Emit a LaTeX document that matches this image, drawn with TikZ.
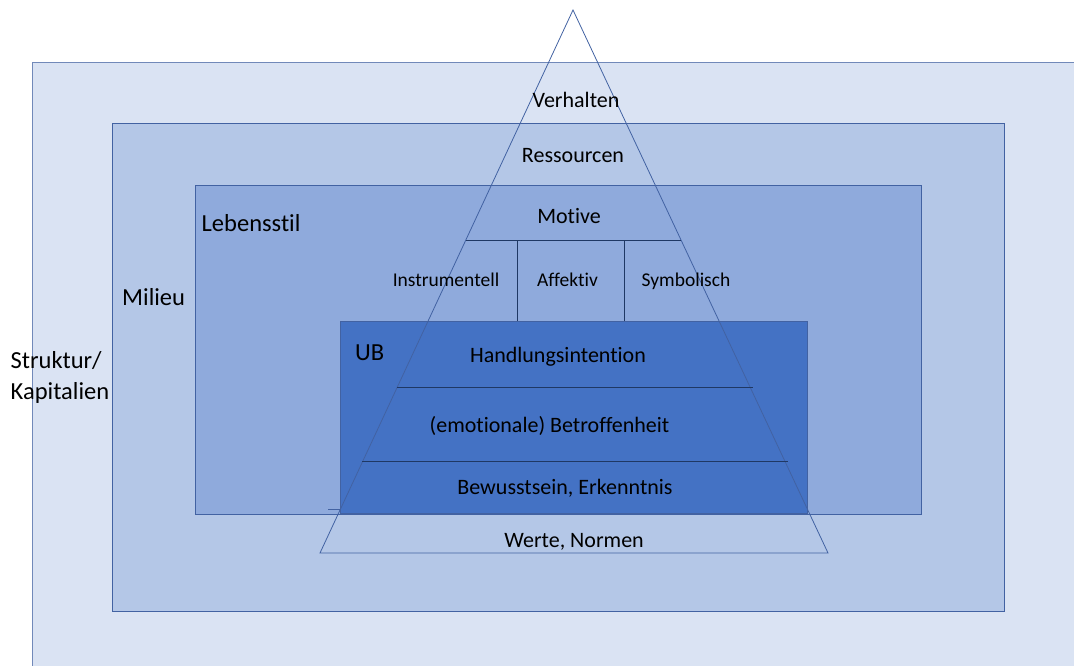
\documentclass[tikz,border=0pt]{standalone}
\usepackage{fontspec}
\setmainfont{Carlito}[Ligatures={NoCommon,NoContextual}]
\usetikzlibrary{calc}
\definecolor{bgA}{HTML}{DAE3F3}
\definecolor{bgB}{HTML}{B4C7E7}
\definecolor{bgC}{HTML}{8FAADC}
\definecolor{bgD}{HTML}{4472C4}
\definecolor{edge}{HTML}{4262A2}
\definecolor{navy}{HTML}{1F3864}
\begin{document}
\begin{tikzpicture}[x=1pt,y=-1pt,
  layer/.style={draw=edge, line width=0.9pt},
  pyr/.style={draw=edge, line width=0.8pt},
  sep/.style={draw=navy, line width=1pt},
  lbl/.style={font=\fontsize{24.5}{29}\selectfont, anchor=base west, inner sep=0pt},
  lvl/.style={font=\fontsize{22}{26}\selectfont, anchor=base, inner sep=0pt},
  sub/.style={font=\fontsize{19.5}{23}\selectfont, anchor=base, inner sep=0pt}]
\useasboundingbox (0,0) rectangle (1074,666);
\clip (0,0) rectangle (1074,666);

% nested context layers
\filldraw[layer, fill=bgA, draw=edge!75] (32,62) rectangle (1080,680);
\filldraw[layer, fill=bgB] (112,123) rectangle (1004,611);
\filldraw[layer, fill=bgC] (195,185) rectangle (921,514);
\filldraw[layer, fill=bgD] (340,321) rectangle (807,513);
\draw[pyr] (328,509.5) -- (340,509.5);

% pyramid
\coordinate (A) at (573,10);
\coordinate (L) at (320,553);
\coordinate (R) at (828,553);
\draw[pyr] (A) -- (L) -- (R) -- cycle;

% inner separators of the pyramid
\coordinate (m1) at ($(A)!0.4236!(L)$);
\coordinate (m2) at ($(A)!0.4236!(R)$);
\draw[sep] (m1) -- (m2);
\coordinate (d1t) at (517,240);
\coordinate (d1b) at (517,321);
\coordinate (d2t) at (624,240);
\coordinate (d2b) at (624,321);
\draw[sep] (d1t) -- (d1b);
\draw[sep] (d2t) -- (d2b);
\coordinate (h1) at ($(A)!0.6961!(L)$);
\coordinate (h2) at ($(A)!0.6961!(R)+(2,0)$);
\draw[sep] (h1) -- (h2);
\coordinate (e1) at ($(A)!0.8324!(L)$);
\coordinate (e2) at ($(A)!0.8324!(R)+(3,0)$);
\draw[sep] (e1) -- (e2);

% layer labels
\node[lbl] (lebensstil) at (201.5,231.5) {Lebensstil};
\node[lbl] (milieu) at (122,305) {Milieu};
\node[lbl] (ub) at (355,360) {UB};
\node[lbl] (struktur) at (10.5,368.5) {Struktur/};
\node[lbl] (kapital) at (10.5,399) {Kapitalien};

% pyramid levels
\node[lvl] (verhalten) at (576,108) {Verhalten};
\node[lvl] (ressourcen) at (573,163) {Ressourcen};
\node[lvl] (motive) at (569,223.5) {Motive};
\node[sub] (instr) at (446,286) {Instrumentell};
\node[sub] (affekt) at (567.5,286) {Affektiv};
\node[sub] (symbol) at (686,286) {Symbolisch};
\node[lvl] (handlung) at (558,362.5) {Handlungsintention};
\node[lvl] (betroffen) at (549.5,432) {(emotionale) Betroffenheit};
\node[lvl] (bewusst) at (565,494) {Bewusstsein, Erkenntnis};
\node[lvl] (werte) at (574,547.5) {Werte, Normen};
\end{tikzpicture}
\end{document}
